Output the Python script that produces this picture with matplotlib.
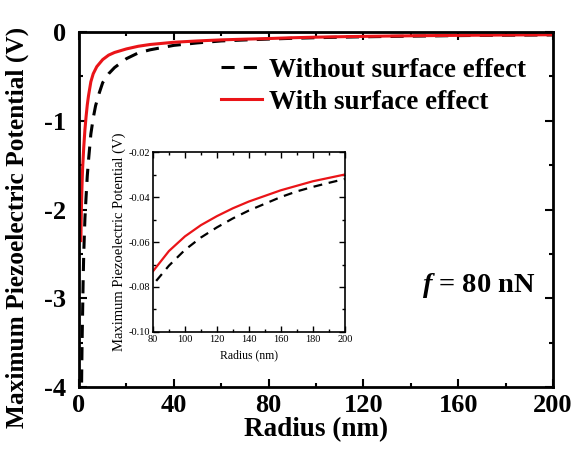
import matplotlib
matplotlib.use('Agg')
import matplotlib.pyplot as plt
from matplotlib import rcParams
from matplotlib.ticker import MultipleLocator
rcParams['font.family'] = 'serif'
rcParams['font.serif'] = ['Liberation Serif']
rcParams['axes.unicode_minus'] = False
rcParams['mathtext.fontset'] = 'custom'
rcParams['mathtext.it'] = 'Liberation Serif:italic:bold'

# without surface effect (dashed)
r_no = [1.1, 1.3, 1.5, 1.75, 2, 2.5, 3, 3.5, 4, 5, 6, 7, 8.5, 10, 12.5, 15, 20, 25, 30, 40, 50, 60,
        70, 80, 90, 100, 110, 120, 130, 140, 150, 160, 170, 180, 190, 200]
v_no = [-3.95, -3.5, -3.2, -2.8, -2.5, -2.1, -1.85, -1.62, -1.45, -1.15, -0.97, -0.83, -0.69, -0.57,
        -0.47, -0.40, -0.30, -0.235, -0.20, -0.15, -0.122, -0.10,
        -0.089, -0.079, -0.0705, -0.0635, -0.058, -0.0535, -0.0495, -0.046, -0.043, -0.040,
        -0.0375, -0.0355, -0.0337, -0.032]
# with surface effect (red)
r_su = [0.8, 0.9, 1, 1.25, 1.5, 2, 2.5, 3, 3.5, 4, 5, 6, 7.5, 10, 12.5, 15, 20, 25, 30, 40, 50, 60,
        70, 80, 90, 100, 110, 120, 130, 140, 150, 160, 170, 180, 190, 200]
v_su = [-2.35, -2.15, -2.0, -1.75, -1.55, -1.3, -1.1, -0.95, -0.82, -0.72, -0.56, -0.47, -0.39, -0.31,
        -0.26, -0.23, -0.19, -0.16, -0.14, -0.115, -0.1, -0.088,
        -0.08, -0.073, -0.064, -0.0575, -0.0525, -0.0485, -0.045, -0.042, -0.0395, -0.037,
        -0.035, -0.033, -0.0315, -0.030]

red = '#ea1418'

fig = plt.figure(figsize=(5.83, 4.51), dpi=100)
ax = fig.add_axes([0.1355, 0.1419, 0.813, 0.787])
ax.plot(r_no, v_no, 'k--', lw=2.2, dashes=(4.3, 3), label='Without surface effect')
ax.plot(r_su, v_su, color=red, lw=2.2, label='With surface effect')
ax.set_xlim(0, 200)
ax.set_ylim(-4, 0)
ax.xaxis.set_major_locator(MultipleLocator(40))
ax.xaxis.set_minor_locator(MultipleLocator(20))
ax.yaxis.set_major_locator(MultipleLocator(1))
ax.yaxis.set_minor_locator(MultipleLocator(0.5))
ax.tick_params(which='both', direction='in', top=True, right=True, width=1.5)
ax.tick_params(which='major', length=6, labelsize=19)
ax.tick_params(axis='x', pad=5)
ax.tick_params(axis='y', pad=9)
ax.tick_params(which='minor', length=3)
for lab in ax.get_xticklabels() + ax.get_yticklabels():
    lab.set_fontweight('bold')
for s in ax.spines.values():
    s.set_linewidth(2)
ax.set_xlabel('Radius (nm)', fontsize=19.5, fontweight='bold', labelpad=0)
ax.set_ylabel('Maximum Piezoelectric Potential (V)', fontsize=18.3, fontweight='bold')
ax.yaxis.set_label_coords(-0.105, 0.45)
ax.legend(loc='upper right', bbox_to_anchor=(0.965, 0.958), frameon=False,
          prop={'size': 19.5, 'weight': 'bold'}, handlelength=1.5, handletextpad=0.25,
          labelspacing=0.25, borderaxespad=0)
ax.text(0.724, 0.268, r'$f$ = 80 nN', transform=ax.transAxes, fontsize=20.5,
        fontweight='bold', va='baseline')

ins = fig.add_axes([0.2624, 0.2639, 0.329, 0.399])
ins.plot(r_no, v_no, 'k--', lw=1.6, dashes=(4, 3))
ins.plot(r_su, v_su, color=red, lw=1.6)
ins.set_xlim(80, 200)
ins.set_ylim(-0.10, -0.02)
ins.xaxis.set_major_locator(MultipleLocator(20))
ins.yaxis.set_minor_locator(MultipleLocator(0.01))
ins.xaxis.set_minor_locator(MultipleLocator(10))
ins.tick_params(which='both', direction='in', top=True, right=True, labelsize=7.5, width=1)
ins.tick_params(which='major', length=4, pad=2)
ins.tick_params(which='minor', length=2)
ins.set_yticks([-0.10, -0.08, -0.06, -0.04, -0.02])
ins.set_yticklabels(['-0.10', '-0.08', '-0.06', '-0.04', '-0.02'])
ins.set_xlabel('Radius (nm)', fontsize=8.5, labelpad=4)
ins.set_ylabel('Maximum Piezoelectric Potential (V)', fontsize=10.5, labelpad=2)
for s in ins.spines.values():
    s.set_linewidth(1.2)

fig.savefig('out.png', dpi=100)
